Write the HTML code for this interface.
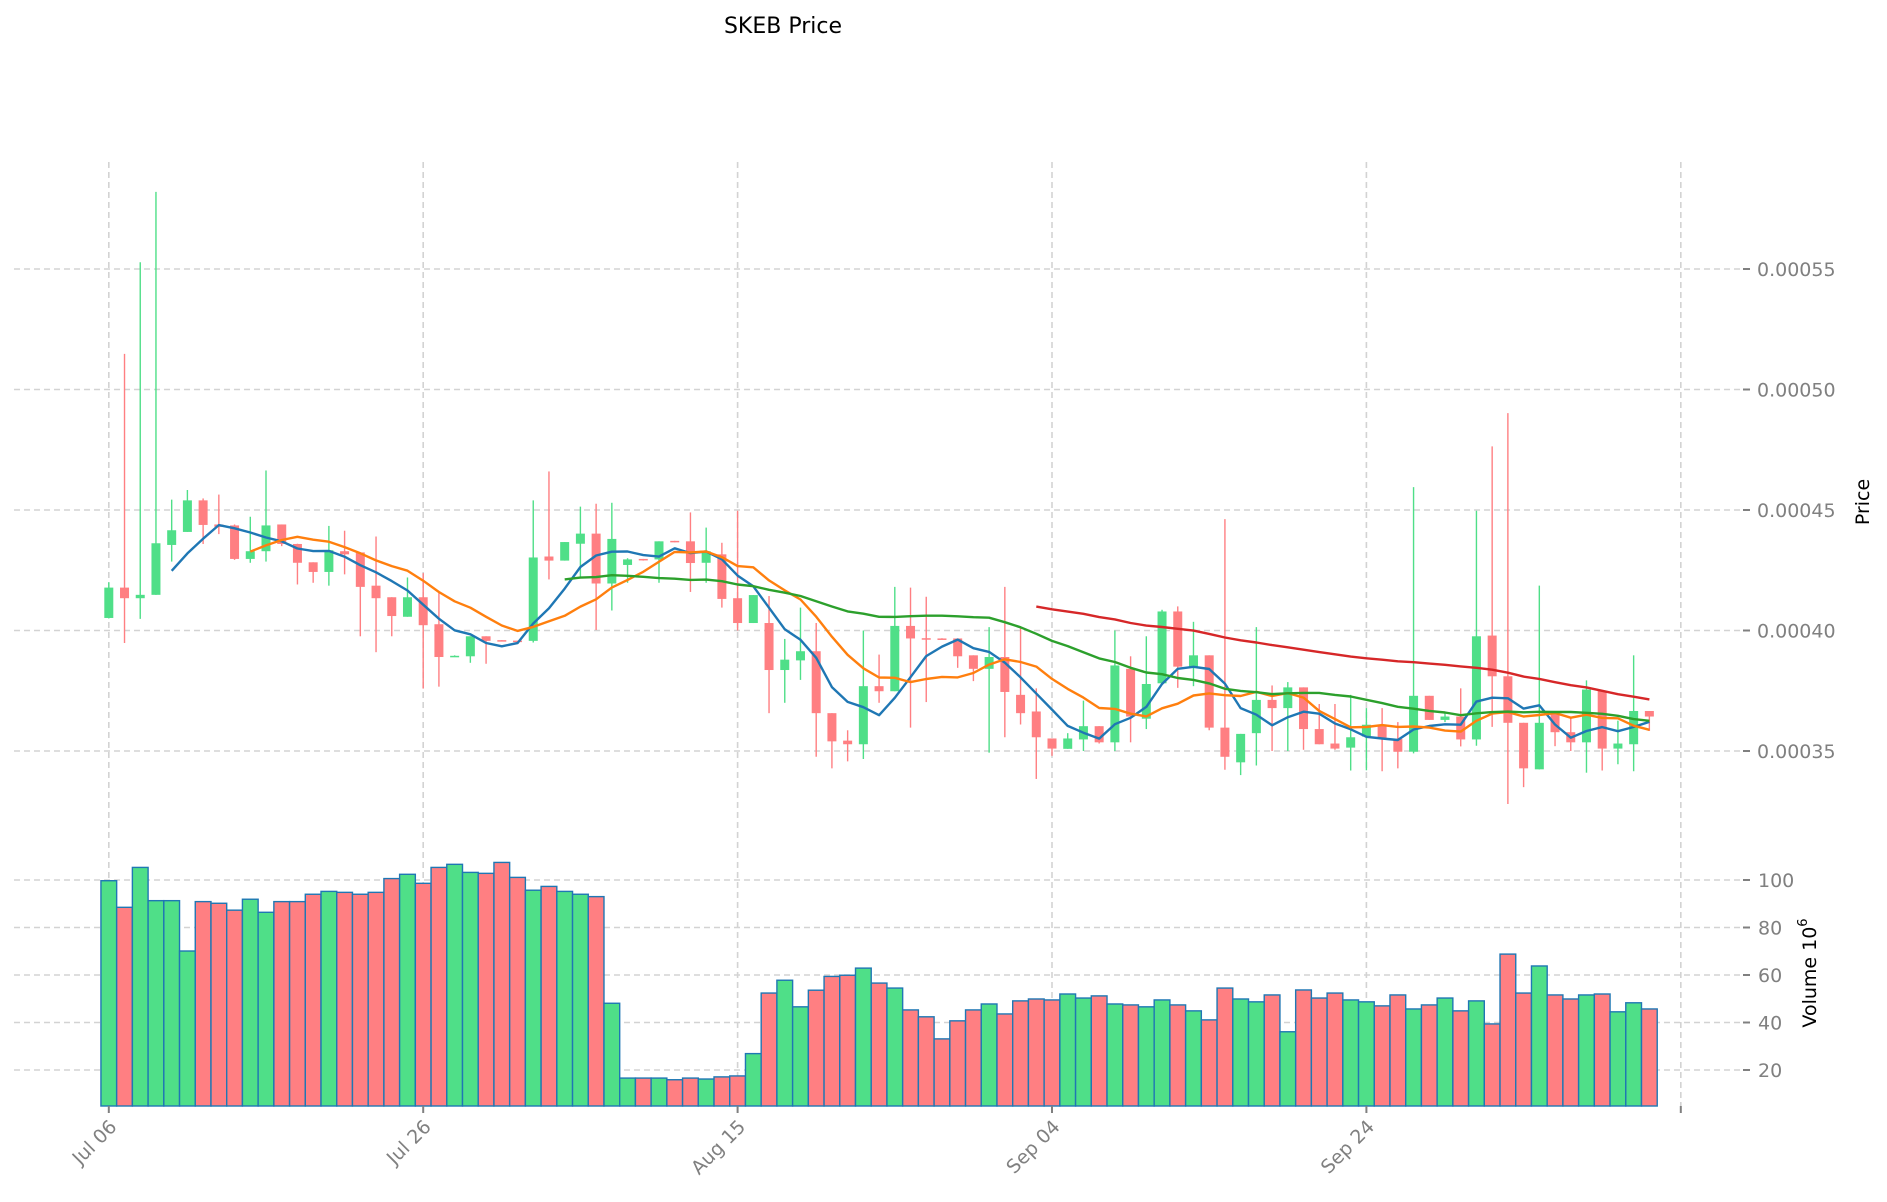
<!DOCTYPE html>
<html><head><meta charset="utf-8"><title>SKEB Price</title>
<style>html,body{margin:0;padding:0;background:#fff;}svg{display:block;font-family:"DejaVu Sans","Liberation Sans",sans-serif;}</style>
</head><body>
<svg id="chart" width="1887" height="1202" viewBox="0 0 1887 1202" xmlns="http://www.w3.org/2000/svg">
<text x="783" y="33" font-size="22" text-anchor="middle" fill="#000">SKEB Price</text>
<g id="grid"></g>
<g id="vol"></g>
<g id="candles"></g>
<g id="mas"></g>
<g id="axes"></g>
<text x="0" y="0" font-size="19" text-anchor="middle" fill="#000" transform="translate(1869,502) rotate(-90)">Price</text>
<text x="0" y="0" font-size="19" text-anchor="middle" fill="#000" transform="translate(1816,973) rotate(-90)">Volume  10<tspan dy="-9" font-size="13">6</tspan></text>
</svg>
<script>
const PRICE_UNIT = 1e-5;
const dayLabels = ["Jul 06","Jul 26","Aug 15","Sep 04","Sep 24",""];
const dayTicks = [0,20,40,60,80,100];
const priceTicks = [0.00035,0.00040,0.00045,0.00050,0.00055];
const priceTickLabels = ["0.00035","0.00040","0.00045","0.00050","0.00055"];
const volTicks = [20,40,60,80,100];
const volTickLabels = ["20","40","60","80","100"];
const opens = [40.52,41.78,41.34,41.48,43.55,44.09,45.4,44.4,44.36,42.97,43.29,44.4,43.59,42.83,42.43,43.29,43.24,41.86,41.38,40.57,41.38,40.26,38.93,38.93,39.76,39.6,39.58,39.57,43.07,42.9,43.6,44.02,41.95,42.72,42.97,42.95,43.72,43.7,42.81,43.16,41.34,40.31,40.31,38.36,38.76,39.14,36.57,35.43,35.28,37.69,37.48,40.19,39.68,39.67,39.67,38.97,38.41,38.9,37.33,36.64,35.52,35.09,35.48,36.03,35.36,38.41,36.34,37.81,40.79,38.5,38.97,35.97,34.53,35.74,37.12,36.78,37.64,35.91,35.31,35.14,35.6,36.09,35.5,34.97,37.29,36.29,36.43,35.48,39.79,38.1,36.17,34.24,36.6,35.78,35.36,37.5,35.1,35.28,36.66];
const highs = [42.0,51.48,55.28,58.2,45.43,45.83,45.48,45.64,44.4,44.72,46.64,44.4,43.6,42.83,44.34,44.14,43.24,43.9,41.38,42.2,42.38,41.6,38.97,39.76,39.76,39.6,39.58,45.4,46.6,43.67,45.14,45.26,45.3,43.0,42.97,43.7,43.72,44.9,44.27,43.64,44.97,41.47,41.43,39.65,40.95,40.31,36.57,35.86,40.0,39.0,41.81,41.78,41.4,39.68,39.67,38.97,40.14,41.81,40.14,37.6,35.52,35.74,37.09,36.03,40.0,38.93,39.76,40.86,41.0,40.36,38.97,44.62,35.71,40.14,37.72,37.86,37.64,36.95,36.95,37.33,36.78,36.78,36.2,45.95,37.29,36.57,37.6,44.97,47.64,49.02,36.17,41.86,36.6,36.43,37.93,37.5,36.26,38.97,36.66];
const lows = [40.5,39.48,40.48,41.48,42.86,44.09,43.59,44.0,42.93,42.81,42.86,43.5,41.91,41.98,41.86,42.33,39.76,39.1,39.76,40.57,37.59,37.67,38.9,38.66,38.62,39.55,39.54,39.5,42.12,42.9,42.2,40.02,40.83,41.98,42.9,41.98,43.66,41.6,41.98,40.95,40.0,40.31,36.57,37.0,37.95,34.76,34.28,34.57,34.67,37.0,37.48,35.97,37.03,39.64,38.45,37.9,34.93,35.57,36.1,33.84,34.8,35.09,35.0,35.31,35.0,35.36,35.91,37.81,37.62,37.69,35.86,34.22,34.0,34.4,35.0,35.0,35.05,35.28,35.05,34.19,34.2,34.16,34.28,34.9,36.29,36.2,35.19,35.22,36.0,32.8,33.5,34.24,35.2,35.0,34.1,34.19,34.45,34.16,35.83];
const closes = [41.78,41.34,41.48,43.62,44.16,45.4,44.38,44.3,42.97,43.29,44.36,43.59,42.81,42.43,43.33,43.16,41.81,41.34,40.6,41.38,40.22,38.9,38.95,39.76,39.57,39.55,39.55,43.03,42.9,43.67,44.02,41.95,43.8,42.95,42.93,43.7,43.68,42.8,43.29,41.31,40.31,41.47,38.36,38.79,39.14,36.57,35.4,35.28,37.69,37.48,40.19,39.67,39.66,39.66,38.93,38.41,38.9,37.45,36.57,35.57,35.1,35.52,36.03,35.36,38.55,36.43,37.78,40.79,38.5,38.97,35.97,34.76,35.71,37.12,36.78,37.64,35.91,35.28,35.1,35.57,36.09,35.55,34.97,37.29,36.29,36.43,35.48,39.76,38.1,36.17,34.28,36.17,35.78,35.36,37.55,35.1,35.31,36.66,36.43];
const volumes = [99.7,88.5,105.3,91.3,91.3,70.1,90.9,90.2,87.3,91.9,86.4,90.9,90.9,94.0,95.2,94.8,94.0,94.8,100.6,102.4,98.6,105.3,106.6,103.2,102.8,107.4,101.1,95.7,97.3,95.2,94.0,93.0,48.1,16.6,16.6,16.6,15.9,16.6,16.2,17.1,17.5,26.9,52.4,57.8,46.6,53.6,59.4,59.9,62.9,56.6,54.5,45.3,42.4,33.1,40.7,45.3,47.8,43.6,49.1,49.9,49.5,52.0,50.3,51.2,47.8,47.4,46.6,49.5,47.4,44.9,41.1,54.5,49.9,48.7,51.6,36.1,53.7,50.3,52.4,49.5,48.7,47.0,51.6,45.7,47.4,50.3,44.9,49.1,39.4,68.8,52.4,63.8,51.6,49.9,51.6,52.0,44.5,48.3,45.7];
const maWindows = [5,10,30,60];
const maColors = ["#1f77b4","#ff7f0e","#2ca02c","#d62728"];

const NS = "http://www.w3.org/2000/svg";
const X0 = 108.8, DX = 15.72;
function xOf(d){ return X0 + DX*d; }
function yPrice(p){ return 751 - (p/PRICE_UNIT - 35)*24.1; }
function yVol(v){ return 1117.5 - v*2.375; }
const VOL_BOTTOM = 1106, PLOT_TOP = 162, GRID_L = 14, GRID_R = 1743;
const UP = "#4fdf88", DOWN = "#ff7f82";
function mk(tag, attrs, parent){ const e=document.createElementNS(NS,tag); for(const k in attrs) e.setAttribute(k,attrs[k]); parent.appendChild(e); return e; }
const grid = document.getElementById('grid'), axes=document.getElementById('axes');
dayTicks.forEach((d,i)=>{
  const x=xOf(d);
  const l=mk('line',{x1:x,x2:x,y1:PLOT_TOP,y2:VOL_BOTTOM,stroke:'#d3d3d3','stroke-width':1.6,'stroke-dasharray':'6,4'},grid);
  
  
  const t=mk('line',{x1:x,x2:x,y1:VOL_BOTTOM,y2:VOL_BOTTOM+7,stroke:'#808080','stroke-width':2},axes);
  
  
  if(dayLabels[i]){
    const tx=mk('text',{x:0,y:0,'font-size':19,fill:'#808080','text-anchor':'end',transform:`translate(${x+9},${VOL_BOTTOM+22}) rotate(-45)`},axes);
    tx.textContent=dayLabels[i];
    
    
  }
});
priceTicks.forEach((p,i)=>{
  const y=yPrice(p);
  const l=mk('line',{x1:GRID_L,x2:GRID_R,y1:y,y2:y,stroke:'#d3d3d3','stroke-width':1.6,'stroke-dasharray':'6,4'},grid);
  
  
  const t=mk('line',{x1:GRID_R,x2:GRID_R+7,y1:y,y2:y,stroke:'#808080','stroke-width':2},axes);
  
  
  const tx=mk('text',{x:1757,y:y+7,'font-size':19,fill:'#808080'},axes);
  tx.textContent=priceTickLabels[i];
  
  
});
volTicks.forEach((v,i)=>{
  const y=yVol(v);
  const l=mk('line',{x1:GRID_L,x2:GRID_R,y1:y,y2:y,stroke:'#d3d3d3','stroke-width':1.6,'stroke-dasharray':'6,4'},grid);
  
  
  const t=mk('line',{x1:GRID_R,x2:GRID_R+7,y1:y,y2:y,stroke:'#808080','stroke-width':2},axes);
  
  
  const tx=mk('text',{x:1758,y:y+7,'font-size':19,fill:'#808080'},axes);
  tx.textContent=volTickLabels[i];
  
  
});
const vol=document.getElementById('vol');
volumes.forEach((v,d)=>{
  const up=closes[d]>=opens[d];
  const x=xOf(d)-DX/2, y=Math.min(yVol(v),VOL_BOTTOM);
  const r=mk('rect',{x:x,y:y,width:DX,height:VOL_BOTTOM-y,fill:up?UP:DOWN,stroke:'#1f77b4','stroke-width':1.4},vol);
  
  
});
const cg=document.getElementById('candles');
opens.forEach((o,d)=>{
  const c=closes[d], up=c>=o, col=up?UP:DOWN, x=xOf(d);
  const w=mk('line',{x1:x,x2:x,y1:yPrice(highs[d]*PRICE_UNIT),y2:yPrice(lows[d]*PRICE_UNIT),stroke:col,'stroke-width':1.4},cg);
  
  
  const yt=yPrice(Math.max(o,c)*PRICE_UNIT), yb=yPrice(Math.min(o,c)*PRICE_UNIT);
  const b=mk('rect',{x:x-4.5,y:yt,width:9,height:Math.max(yb-yt,1.5),fill:col},cg);
  
  
});
const mg=document.getElementById('mas');
maWindows.forEach((n,k)=>{
  const pts=[];
  for(let d=n-1; d<closes.length; d++){
    let s=0; for(let j=d-n+1;j<=d;j++) s+=closes[j];
    pts.push(xOf(d).toFixed(1)+','+yPrice(s/n*PRICE_UNIT).toFixed(1));
  }
  const pl=mk('polyline',{points:pts.join(' '),fill:'none',stroke:maColors[k],'stroke-width':2.4,'stroke-linejoin':'round'},mg);
  
  
});
</script>
</body></html>
